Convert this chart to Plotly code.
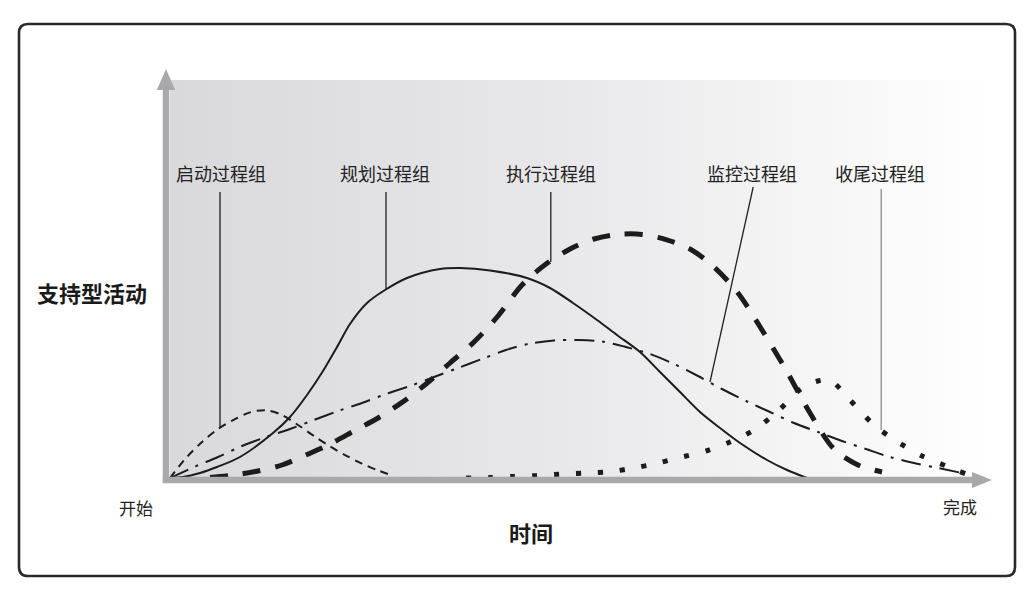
import plotly.graph_objects as go

# ---------------- data (time 0..100, activity level) ----------------
init_x = [0, 2, 4, 6, 8, 10, 12, 14, 16, 18, 20, 22, 24, 26, 28]
init_y = [0, 5.0, 9.0, 12.25, 14.6, 16.4, 16.95, 15.75, 13.25, 10.5, 7.9, 5.6, 3.6, 1.9, 0.5]

plan_x = [0, 1.625, 3.75, 5.875, 8.75, 12.875, 15, 17.125, 19.125, 20.875, 22.5,
          24.625, 26.875, 29.625, 33.75, 36.25, 40, 44.625, 47.5, 50.375, 53.375,
          55.875, 58.75, 61.25, 63.75, 66.25, 68.75, 71.25, 74.625, 77.125, 79.625]
plan_y = [0, 0.25, 1.25, 2.75, 5.25, 11.25, 15.25, 20.75, 26.75, 32.75, 38.5,
          43.75, 47, 50, 52.25, 52.5, 51.9, 50, 47.5, 43.75, 39.5, 35.75, 31.5,
          26.5, 21.5, 16.5, 12.5, 8.75, 4.5, 2, 0]

exec_x = [5, 8, 11, 14, 17, 20, 23, 26, 29, 32, 35, 38, 41, 44, 47, 50, 53, 56,
          59, 62, 65, 68, 71, 74, 77, 80, 83, 86, 89]
exec_y = [0.1, 0.75, 1.75, 3.25, 5.75, 8.5, 11.75, 15, 18.9, 23.5, 28.75, 34,
          40.5, 48.25, 53.5, 57.25, 59.75, 60.9, 60.9, 59.6, 57.25, 52.75, 46.25,
          37, 27, 16.25, 7.25, 3.25, 1.5]

mon_x = [0, 3, 6, 9, 12, 15, 18, 21, 24, 27, 30, 33, 36, 39, 42, 45, 48, 51,
         54, 57, 60, 63, 66, 69, 72, 75, 78, 81, 84, 87, 90, 93, 96, 99]
mon_y = [0, 2.75, 5.25, 8, 10.25, 12.25, 14.5, 16.75, 18.75, 21, 23, 25.25,
         27.5, 29.75, 32, 33.6, 34.4, 34.5, 34.1, 32.75, 31, 28.5, 25.5, 22.25,
         19.25, 16.5, 13.75, 11.5, 9.25, 7.25, 5.25, 3.75, 2.5, 1.25]

close_x = [37, 40, 43, 46, 49, 52, 55, 58, 61, 64, 67, 70, 73, 76, 79, 81, 82,
           83, 85, 88, 91, 94, 97, 99.5]
close_y = [0, 0.1, 0.4, 0.6, 1, 1.25, 1.6, 2.5, 3.75, 5.25, 6.75, 9, 12, 16.75,
           22.5, 24.25, 24.5, 23.75, 19.5, 13.25, 9, 5.5, 3, 1]

group_labels = ["启动过程组", "规划过程组", "执行过程组", "监控过程组", "收尾过程组"]
label_x = [6.4, 26.9, 47.6, 72.75, 88.75]
label_y = 76.25
# leader lines
leader_top_x = [6.25, 27.0, 47.6, 72.9, 88.9]
leader_top_y = [71.5, 71.5, 71.5, 72.75, 72.25]
leader_end_x = [6.25, 27.0, 47.6, 67.5, 88.9]
leader_end_y = [12.5, 47.25, 54.0, 24.0, 12.0]
leader_colors = ["#222", "#222", "#222", "#222", "#8a8a8a"]

y_title = "支持型活动"
x_title = "时间"
start_label = "开始"
end_label = "完成"

FONT = "Noto Sans CJK SC, Noto Sans, sans-serif"
INK = "#1c1c1c"
AXIS_GRAY = "#a9a9ac"

fig = go.Figure()

# gradient background panel
fig.add_trace(go.Scatter(
    x=[0, 102.5, 102.5, 0, 0], y=[0.25, 0.25, 99.5, 99.5, 0.25],
    mode="lines", fill="toself", line=dict(width=0),
    fillgradient=dict(type="horizontal",
                      colorscale=[[0, "#d9d9dc"], [0.5, "#e9e9eb"], [1, "#ffffff"]]),
    hoverinfo="skip", showlegend=False))

def curve(x, y, dash, width):
    fig.add_trace(go.Scatter(
        x=x, y=y, mode="lines",
        line=dict(color=INK, width=width, dash=dash, shape="spline", smoothing=0.9),
        hoverinfo="skip", showlegend=False))

curve(init_x, init_y, "8px,6px", 2)
curve(mon_x, mon_y, "20px,8px,3px,8px", 2)
curve(plan_x, plan_y, "solid", 2)
curve(close_x, close_y, "5px,17px", 5)
curve(exec_x, exec_y, "18px,15px", 5)

shapes = []
# axes with arrowheads
shapes.append(dict(type="line", xref="x", yref="y", x0=-0.5, y0=-0.9, x1=-0.5, y1=97.5,
                   line=dict(color=AXIS_GRAY, width=6.5), layer="above"))
shapes.append(dict(type="path", xref="x", yref="y",
                   path="M -0.5 102.25 L -1.65 97 L 0.65 97 Z",
                   fillcolor=AXIS_GRAY, line=dict(width=0), layer="above"))
shapes.append(dict(type="line", xref="x", yref="y", x0=-0.9, y0=-0.5, x1=100.5, y1=-0.5,
                   line=dict(color=AXIS_GRAY, width=6.5), layer="above"))
shapes.append(dict(type="path", xref="x", yref="y",
                   path="M 102.75 -0.5 L 100.25 1.5 L 100.25 -2.5 Z",
                   fillcolor=AXIS_GRAY, line=dict(width=0), layer="above"))

# leader lines
for i in range(len(group_labels)):
    shapes.append(dict(type="line", xref="x", yref="y",
                       x0=leader_top_x[i], y0=leader_top_y[i],
                       x1=leader_end_x[i], y1=leader_end_y[i],
                       line=dict(color=leader_colors[i], width=1.3), layer="above"))

# rounded outer border (paper coords, px based)
W, H = 1032, 594
def P(px, py):
    return f"{px / W:.5f} {1 - py / H:.5f}"
L_, T_, R_, B_, r = 19, 24, 1015, 576, 9
border = (f"M {P(L_ + r, T_)} L {P(R_ - r, T_)} Q {P(R_, T_)} {P(R_, T_ + r)} "
          f"L {P(R_, B_ - r)} Q {P(R_, B_)} {P(R_ - r, B_)} "
          f"L {P(L_ + r, B_)} Q {P(L_, B_)} {P(L_, B_ - r)} "
          f"L {P(L_, T_ + r)} Q {P(L_, T_)} {P(L_ + r, T_)} Z")
shapes.append(dict(type="path", xref="paper", yref="paper", path=border,
                   line=dict(color="#2a2a2a", width=2.6), layer="above"))

annotations = []
for i, t in enumerate(group_labels):
    annotations.append(dict(x=label_x[i], y=label_y, xref="x", yref="y", text=t,
                            showarrow=False, font=dict(family=FONT, size=18, color="#222")))
annotations.append(dict(x=-9.8, y=46.5, xref="x", yref="y", text=y_title, showarrow=False,
                        font=dict(family=FONT, size=22, color="#1a1a1a", weight=700)))
annotations.append(dict(x=45.1, y=-13.5, xref="x", yref="y", text=x_title, showarrow=False,
                        font=dict(family=FONT, size=22, color="#1a1a1a", weight=700)))
annotations.append(dict(x=-4.2, y=-7.25, xref="x", yref="y", text=start_label, showarrow=False,
                        font=dict(family=FONT, size=17, color="#222")))
annotations.append(dict(x=98.75, y=-7.0, xref="x", yref="y", text=end_label, showarrow=False,
                        font=dict(family=FONT, size=17, color="#222")))

fig.update_layout(
    width=W, height=H, margin=dict(l=0, r=0, t=0, b=0),
    paper_bgcolor="white", plot_bgcolor="white",
    xaxis=dict(range=[-170 / 8, (W - 170) / 8], visible=False, fixedrange=True),
    yaxis=dict(range=[-(H - 478) / 4, 478 / 4], visible=False, fixedrange=True),
    shapes=shapes, annotations=annotations, showlegend=False,
)

fig.write_html("out.html", config={"displayModeBar": False})
